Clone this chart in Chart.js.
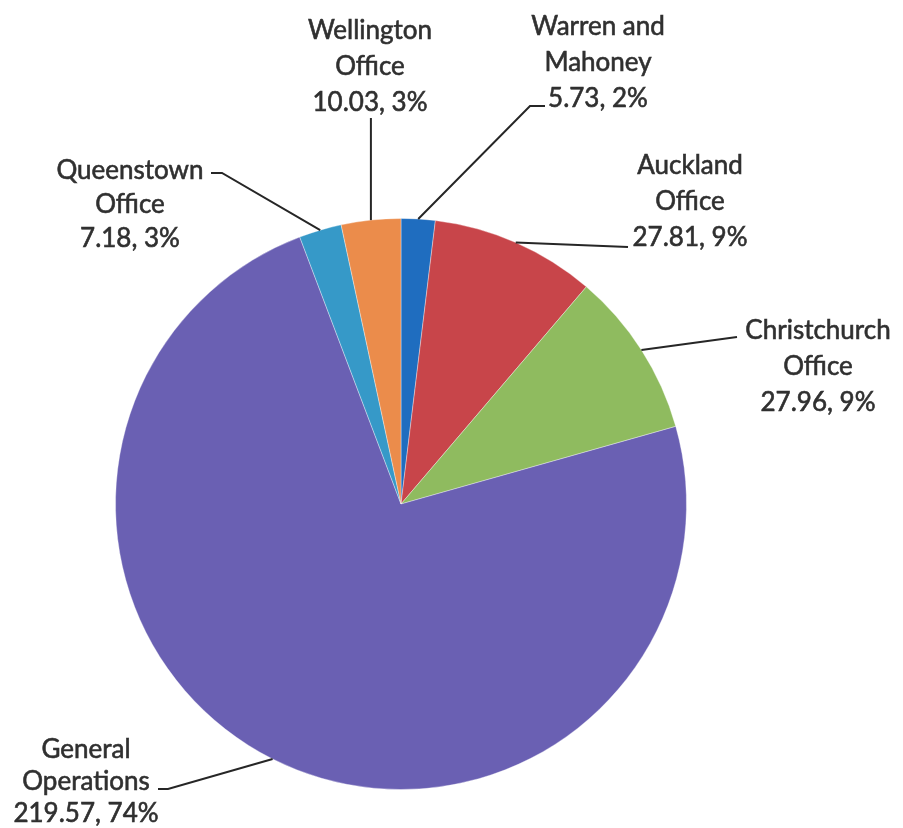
<!DOCTYPE html>
<html>
<head>
<meta charset="utf-8">
<script src="https://cdn.jsdelivr.net/npm/chart.js@4/dist/chart.umd.min.js"></script>
<style>
  body { margin: 0; background: #fff; }
  #wrap { width: 903px; height: 828px; }
</style>
</head>
<body>
<div id="wrap"><canvas id="graficoTorta" width="903" height="828"></canvas></div>
<script>
// datos (sentido horario desde las 12)
let oficinas = ['Warren and Mahoney', 'Auckland Office', 'Christchurch Office', 'General Operations', 'Queenstown Office', 'Wellington Office'];
let valores = [5.73, 27.81, 27.96, 219.57, 7.18, 10.03];
let porcentajes = [2, 9, 9, 74, 3, 3];
let colores = ['#1f6dbf', '#c8454a', '#8fbb5f', '#6a60b3', '#3699c8', '#eb8c4b'];

// posicion de cada etiqueta: centro del texto (primera linea), interlineado,
// y punto donde termina la linea guia (hx = tramo horizontal opcional)
let posEtiquetas = [
  { x: 598, y: 27, sep: 36, gx: 530, gy: 106, hx: 545 },
  { x: 690, y: 166, sep: 36, gx: 628, gy: 247 },
  { x: 818, y: 331, sep: 36, gx: 737, gy: 337 },
  { x: 86, y: 750, sep: 32, gx: 168, gy: 789, hx: 158 },
  { x: 130, y: 171, sep: 34, gx: 222, gy: 173, hx: 211 },
  { x: 370, y: 31, sep: 36, gx: null, gy: 118 }
];

function partirNombre(nombre) {
  let i = nombre.lastIndexOf(' ');
  return [nombre.substring(0, i), nombre.substring(i + 1)];
}

const etiquetasPlugin = {
  id: 'etiquetas',
  afterDatasetsDraw(chart) {
    let ctx = chart.ctx;
    let meta = chart.getDatasetMeta(0);
    ctx.save();
    meta.data.forEach(function (arco, i) {
      let p = arco.getProps(['x', 'y', 'startAngle', 'endAngle', 'outerRadius'], true);
      let medio = (p.startAngle + p.endAngle) / 2;
      let ax = p.x + Math.cos(medio) * p.outerRadius;
      let ay = p.y + Math.sin(medio) * p.outerRadius;
      let pos = posEtiquetas[i];
      let gx = pos.gx === null ? ax : pos.gx;

      ctx.strokeStyle = '#262626';
      ctx.lineWidth = 2;
      ctx.beginPath();
      ctx.moveTo(ax, ay);
      ctx.lineTo(gx, pos.gy);
      if (pos.hx !== undefined) ctx.lineTo(pos.hx, pos.gy);
      ctx.stroke();

      let lineas = partirNombre(oficinas[i]);
      lineas.push(valores[i].toFixed(2) + ', ' + porcentajes[i] + '%');
      ctx.fillStyle = '#303030';
      ctx.strokeStyle = '#303030';
      ctx.lineWidth = 0.6;
      ctx.font = '26px Lato';
      ctx.textAlign = 'center';
      ctx.textBaseline = 'middle';
      lineas.forEach(function (t, k) {
        ctx.fillText(t, pos.x, pos.y + k * pos.sep);
        ctx.strokeText(t, pos.x, pos.y + k * pos.sep);
      });
    });
    ctx.restore();
  }
};

let ctxTorta = document.getElementById('graficoTorta');
let graficoTortaOficinas = new Chart(ctxTorta, {
  type: 'pie',
  data: {
    labels: oficinas,
    datasets: [{
      data: valores,
      backgroundColor: colores,
      borderColor: 'rgba(255,255,255,0.35)',
      borderWidth: 1,
      hoverOffset: 0
    }]
  },
  options: {
    responsive: false,
    animation: false,
    events: [],
    layout: { padding: { left: 115, right: 216, top: 218, bottom: 38 } },
    plugins: {
      legend: { display: false },
      tooltip: { enabled: false }
    }
  },
  plugins: [etiquetasPlugin]
});
</script>
</body>
</html>
